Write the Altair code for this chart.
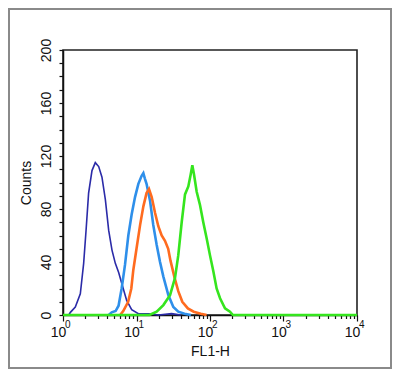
import altair as alt
import pandas as pd

# ---- data (FL1-H value, counts) ----
navy_x = [1.2, 1.26, 1.47, 1.72, 1.91, 2.06, 2.23, 2.48, 2.75, 3.06, 3.39, 3.77, 4.18, 4.64, 5.15, 5.72, 6.29, 7.35, 8.6, 10.6, 15, 20, 30, 40]
navy_y = [0, 2, 6, 16, 39, 64, 92, 109, 115, 112, 104, 87, 64, 49, 39, 32, 24, 11, 4, 1, 1, 0, 1, 0]

blue_x = [4.2, 4.6, 5.2, 5.7, 6.28, 6.98, 7.74, 8.6, 9.55, 10.6, 11.75, 12.4, 13.0, 13.7, 15.3, 16.9, 18.8, 20.9, 23.2, 27.1, 31.7, 37, 45, 55]
blue_y = [0, 2, 3, 7, 20, 38, 60, 76, 89, 99, 105, 107, 103, 99, 86, 68, 53, 40, 29, 15, 6, 2.5, 1, 0]

orange_x = [6.0, 6.6, 7.7, 8.5, 9.05, 10.0, 11.2, 12.4, 13.7, 14.8, 16.1, 17.9, 19.8, 22.0, 24.4, 27.0, 29.0, 33.0, 37.0, 42.0, 50.0, 60.0, 75.0, 90.0]
orange_y = [0, 3, 10, 20, 34, 50, 68, 82, 92, 95, 89, 77, 67, 60, 56, 50, 41, 28, 18, 10, 5, 2.5, 1, 0]

green_x = [1, 15, 18.8, 23.2, 28.6, 33.4, 37, 41.2, 45.7, 50.7, 54.6, 57.5, 60.6, 65.9, 73.1, 81, 90, 100, 111, 123, 137, 160, 187, 205, 10000]
green_y = [0, 0, 2.5, 7.5, 15, 28, 45, 70, 91, 97, 106, 113, 106, 93, 83, 70, 58, 45, 33, 20, 12.6, 5, 2.5, 0, 0]

decades = [1, 10, 100, 1000, 10000]
exponents = ["0", "1", "2", "3", "4"]

x_ticks = [m * 10 ** d for d in range(4) for m in range(1, 10)] + [10000]
y_ticks = list(range(0, 201, 10))

series = [
    ("navy", navy_x, navy_y, "#2B2BA8", 1.6),
    ("blue", blue_x, blue_y, "#2E8FEA", 2.6),
    ("orange", orange_x, orange_y, "#FF6B1F", 2.6),
    ("green", green_x, green_y, "#35E51E", 2.6),
]

FONT = "Liberation Sans"

x_scale = alt.Scale(type="log", domain=[1, 10000], nice=False)
y_scale = alt.Scale(domain=[0, 200], nice=False)

x_axis = alt.Axis(
    values=x_ticks,
    labelExpr="indexof([1,10,100,1000,10000], datum.value) >= 0 ? '10' : ''",
    tickSize={"condition": {"test": "indexof([1,10,100,1000,10000], datum.value) >= 0", "value": 6}, "value": 3.5},
    labelOverlap=False,
    labelFlush=False,
    labelFontSize=14,
    labelOffset=-5,
    labelPadding=4,
    labelFont=FONT,
    labelColor="#111",
    title="FL1-H",
    titleFont=FONT,
    titleFontSize=14,
    titleFontWeight="normal",
    titleColor="#111",
    titlePadding=5,
    grid=False,
    domainColor="#111",
    domainWidth=1.5,
    tickColor="#111",
    tickWidth=1.2,
)

y_axis = alt.Axis(
    values=y_ticks,
    labelExpr="datum.value % 40 == 0 ? datum.label : ''",
    tickSize=4,
    labelAngle=270,
    labelAlign="center",
    labelBaseline="bottom",
    labelOverlap=False,
    labelFontSize=14,
    labelPadding=6,
    labelFont=FONT,
    labelColor="#111",
    title="Counts",
    titleFont=FONT,
    titleFontSize=14,
    titleFontWeight="normal",
    titleColor="#111",
    titlePadding=6,
    grid=False,
    domainColor="#111",
    domainWidth=1.5,
    tickColor="#111",
    tickWidth=1.2,
)

layers = []
for name, xs, ys, color, sw in series:
    df = pd.DataFrame({"x": xs, "y": ys})
    layers.append(
        alt.Chart(df).mark_line(color=color, strokeWidth=sw).encode(
            x=alt.X("x:Q", scale=x_scale, axis=x_axis),
            y=alt.Y("y:Q", scale=y_scale, axis=y_axis),
            order="x:Q",
        )
    )

exp_layer = alt.Chart(pd.DataFrame({"x": decades, "e": exponents})).mark_text(
    align="left", baseline="top", dx=2, fontSize=10, font=FONT, color="#111"
).encode(
    x=alt.X("x:Q", scale=x_scale, axis=x_axis),
    y=alt.value(270),
    text="e:N",
)

frame = alt.Chart(pd.DataFrame({"a": [0]})).mark_rect(
    fill=None, stroke="#8a8a8a", strokeWidth=2
).encode(
    x=alt.value(-54), x2=alt.value(294 + 34),
    y=alt.value(-41), y2=alt.value(265 + 53),
)

chart = alt.layer(*layers, exp_layer, frame).properties(
    width=294,
    height=265,
    background="white",
    autosize=alt.AutoSizeParams(type="none"),
    padding={"left": 55, "top": 42, "right": 35, "bottom": 54},
).configure_view(
    stroke="#222", strokeWidth=1.6
)

chart.save("out.html", embed_options={"renderer": "svg", "actions": False})
